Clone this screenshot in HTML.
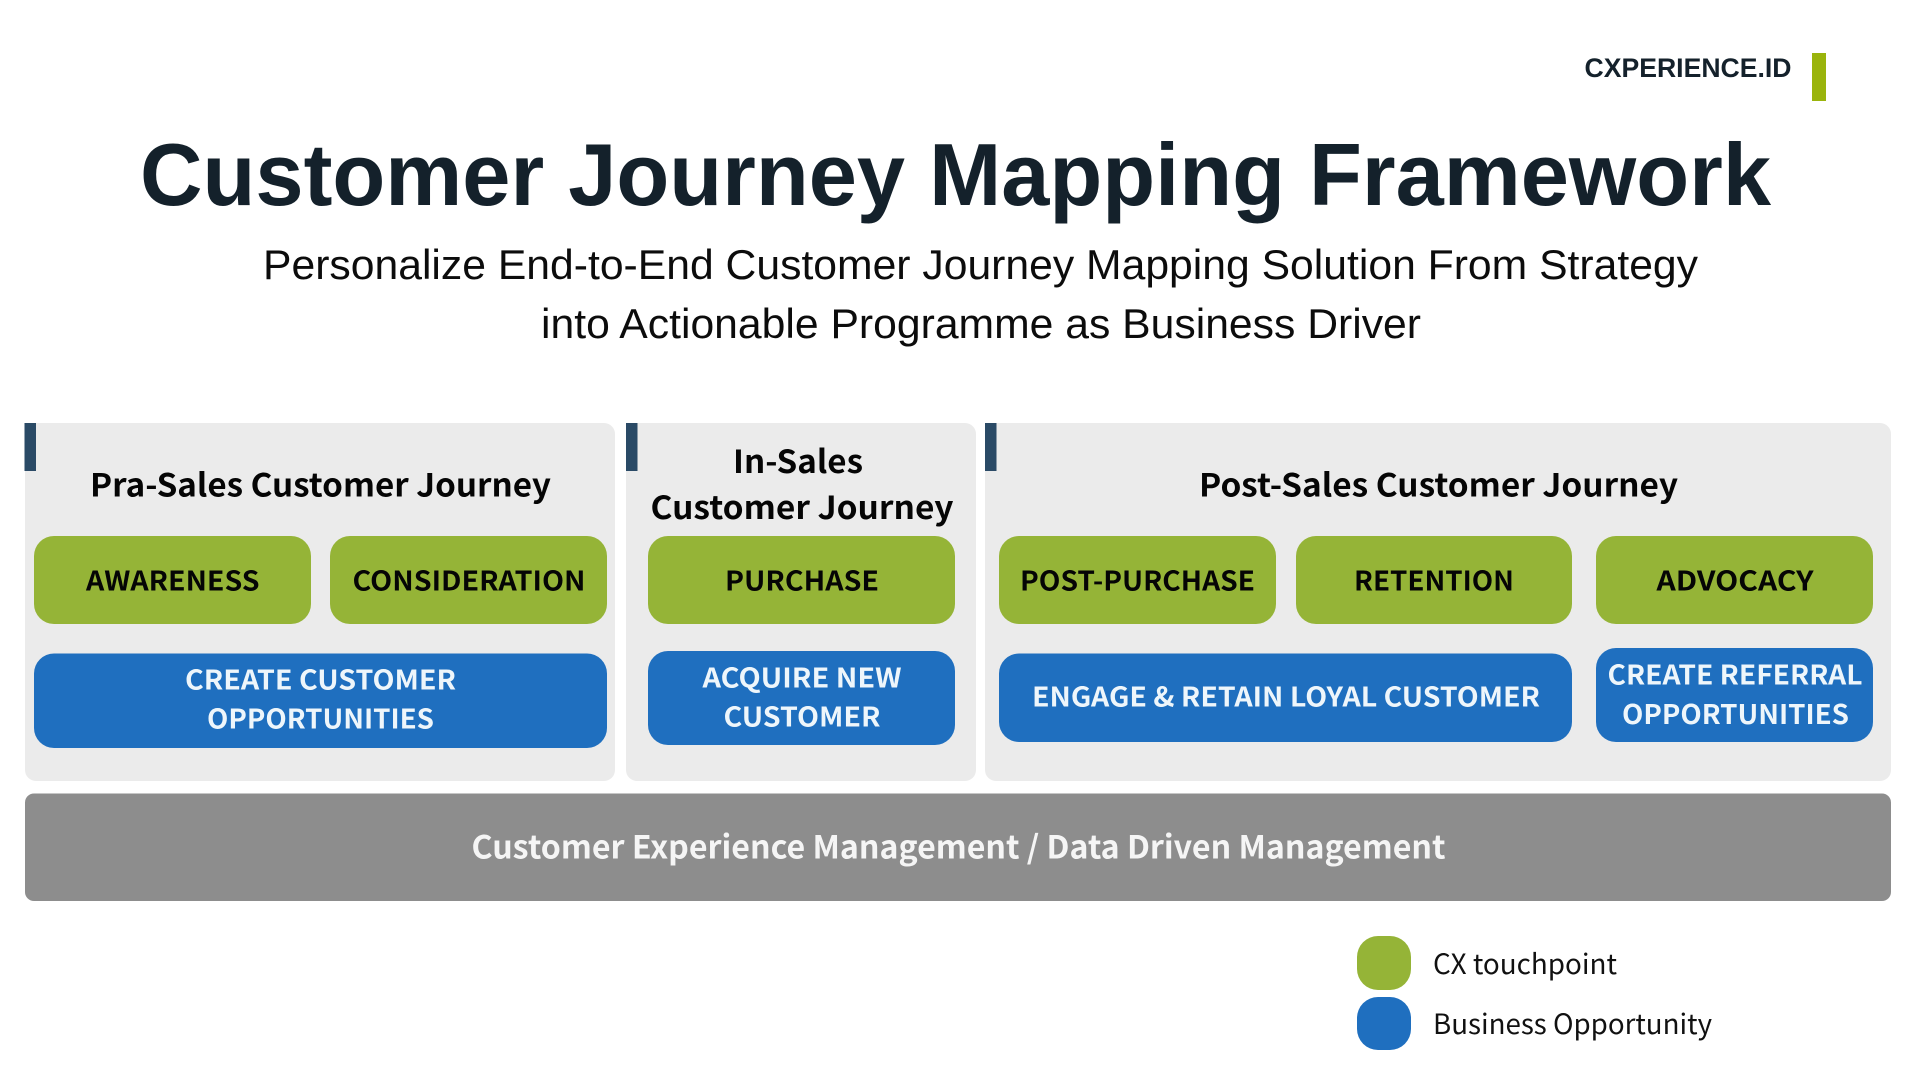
<!DOCTYPE html>
<html><head><meta charset="utf-8"><style>
html,body{margin:0;padding:0;background:#fff;width:1920px;height:1080px;overflow:hidden}
svg{display:block}
.n{font-family:"Noto Sans CJK JP","Liberation Sans",sans-serif}
.b{font-weight:700}
.l{font-family:"Liberation Sans",sans-serif}
</style></head><body>
<svg width="1920" height="1080" viewBox="0 0 1920 1080" xmlns="http://www.w3.org/2000/svg">
<rect width="1920" height="1080" fill="#fff"/>
<text class="l" font-weight="700" x="1584.5" y="77" font-size="27" fill="#14212b" textLength="207" lengthAdjust="spacingAndGlyphs">CXPERIENCE.ID</text>
<rect x="1812" y="53" width="14" height="48" fill="#9ab40c"/>
<text class="l" font-weight="700" x="140" y="205" font-size="88" fill="#14212b" textLength="1631" lengthAdjust="spacingAndGlyphs">Customer Journey Mapping Framework</text>
<text class="l" x="263" y="279" font-size="42" fill="#0c0c0c" textLength="1435" lengthAdjust="spacingAndGlyphs">Personalize End-to-End Customer Journey Mapping Solution From Strategy</text>
<text class="l" x="541" y="338" font-size="42" fill="#0c0c0c" textLength="880" lengthAdjust="spacingAndGlyphs">into Actionable Programme as Business Driver</text>

<rect x="25" y="423" width="590" height="358" rx="11" fill="#ebebeb"/>
<rect x="626" y="423" width="350" height="358" rx="11" fill="#ebebeb"/>
<rect x="985" y="423" width="906" height="358" rx="11" fill="#ebebeb"/>
<rect x="24.5" y="423" width="11.5" height="48" fill="#2a4a66"/>
<rect x="626" y="423" width="11.5" height="48" fill="#2a4a66"/>
<rect x="985" y="423" width="11.5" height="48" fill="#2a4a66"/>

<g class="n b" font-size="32" fill="#050505">
<text x="90" y="496.5" textLength="461" lengthAdjust="spacingAndGlyphs">Pra-Sales Customer Journey</text>
<text x="733" y="473" textLength="130" lengthAdjust="spacingAndGlyphs">In-Sales</text>
<text x="650.5" y="519" textLength="303" lengthAdjust="spacingAndGlyphs">Customer Journey</text>
<text x="1199" y="496.5" textLength="479" lengthAdjust="spacingAndGlyphs">Post-Sales Customer Journey</text>
</g>

<g fill="#95b437">
<rect x="34" y="536" width="277" height="88" rx="20"/>
<rect x="330" y="536" width="277" height="88" rx="20"/>
<rect x="648" y="536" width="307" height="88" rx="20"/>
<rect x="999" y="536" width="277" height="88" rx="20"/>
<rect x="1296" y="536" width="276" height="88" rx="20"/>
<rect x="1596" y="536" width="277" height="88" rx="20"/>
<rect x="1357" y="936" width="54" height="54" rx="21"/>
</g>
<g fill="#1f6fbf">
<rect x="34" y="653.5" width="573" height="94.5" rx="20"/>
<rect x="648" y="651" width="307" height="94" rx="20"/>
<rect x="999" y="653.5" width="573" height="88.5" rx="20"/>
<rect x="1596" y="648" width="277" height="94" rx="20"/>
<rect x="1357" y="997" width="54" height="53" rx="21"/>
</g>

<g class="n b" font-size="27" fill="#050505">
<text x="86" y="590.5" textLength="173.5" lengthAdjust="spacingAndGlyphs">AWARENESS</text>
<text x="352.5" y="590.5" textLength="233" lengthAdjust="spacingAndGlyphs">CONSIDERATION</text>
<text x="725" y="590.5" textLength="154" lengthAdjust="spacingAndGlyphs">PURCHASE</text>
<text x="1020" y="590.5" textLength="235" lengthAdjust="spacingAndGlyphs">POST-PURCHASE</text>
<text x="1354" y="590.5" textLength="160" lengthAdjust="spacingAndGlyphs">RETENTION</text>
<text x="1656.5" y="590.5" textLength="157" lengthAdjust="spacingAndGlyphs">ADVOCACY</text>
</g>
<g class="n b" font-size="27" fill="#eef6fb">
<text x="185" y="689.5" textLength="271" lengthAdjust="spacingAndGlyphs">CREATE CUSTOMER</text>
<text x="207" y="728.5" textLength="227" lengthAdjust="spacingAndGlyphs">OPPORTUNITIES</text>
<text x="702.5" y="687.5" textLength="199" lengthAdjust="spacingAndGlyphs">ACQUIRE NEW</text>
<text x="723.5" y="726.5" textLength="157" lengthAdjust="spacingAndGlyphs">CUSTOMER</text>
<text x="1032" y="706.5" textLength="508" lengthAdjust="spacingAndGlyphs">ENGAGE &amp; RETAIN LOYAL CUSTOMER</text>
<text x="1607.5" y="684.5" textLength="255" lengthAdjust="spacingAndGlyphs">CREATE REFERRAL</text>
<text x="1622" y="724" textLength="227" lengthAdjust="spacingAndGlyphs">OPPORTUNITIES</text>
</g>

<rect x="25" y="793.5" width="1866" height="107.5" rx="9" fill="#8d8d8d"/>
<text class="n b" x="471.5" y="858.5" font-size="32" fill="#f5f5f5" textLength="974" lengthAdjust="spacingAndGlyphs">Customer Experience Management / Data Driven Management</text>

<g class="n" font-size="28" fill="#111">
<text x="1433" y="974" textLength="184" lengthAdjust="spacingAndGlyphs">CX touchpoint</text>
<text x="1433" y="1034" textLength="279" lengthAdjust="spacingAndGlyphs">Business Opportunity</text>
</g>
</svg>
</body></html>
